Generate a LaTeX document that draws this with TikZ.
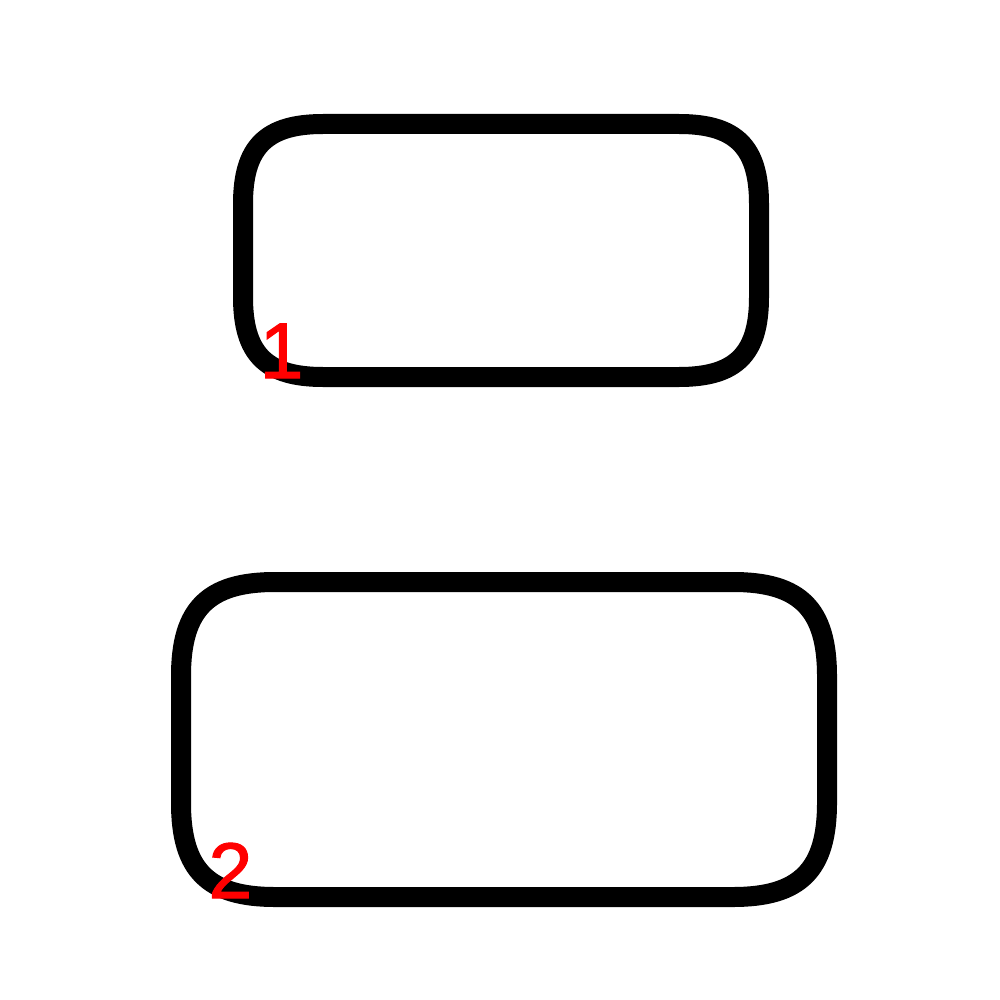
\documentclass[tikz,border=0pt]{standalone}
\usepackage{fontspec}
\setmainfont{Liberation Sans}
\newfontfamily\lblfont[FakeBold=1.3]{Liberation Sans}
% #1 x-left, #2 y-top, #3 x-right, #4 y-bottom, #5 corner length, #6 control offset
\newcommand\squirclebox[6]{%
  \draw[box] ({#1+#5},#2) -- ({#3-#5},#2)
    .. controls ({#3-#6},#2) and (#3,{#2+#6}) .. (#3,{#2+#5})
    -- (#3,{#4-#5})
    .. controls (#3,{#4-#6}) and ({#3-#6},#4) .. ({#3-#5},#4)
    -- ({#1+#5},#4)
    .. controls ({#1+#6},#4) and (#1,{#4-#6}) .. (#1,{#4-#5})
    -- (#1,{#2+#5})
    .. controls (#1,{#2+#6}) and ({#1+#6},#2) .. cycle;}
\tikzset{
  box/.style={draw=black, line width=20pt, line join=round},
  lbl/.style={text=red, inner sep=0pt, outer sep=0pt, anchor=base west, font=\lblfont\fontsize{79}{79}\selectfont}
}
\begin{document}
\begin{tikzpicture}[x=1pt,y=-1pt]
\useasboundingbox[fill=white] (0,0) rectangle (1000,1000);
\squirclebox{243}{124}{759}{377}{80}{23}
\squirclebox{181}{582}{827}{897}{94}{27}
\node[lbl] (l1) at (259.5,378) {1};
\node[lbl] (l2) at (208.5,898) {2};
\end{tikzpicture}
\end{document}
